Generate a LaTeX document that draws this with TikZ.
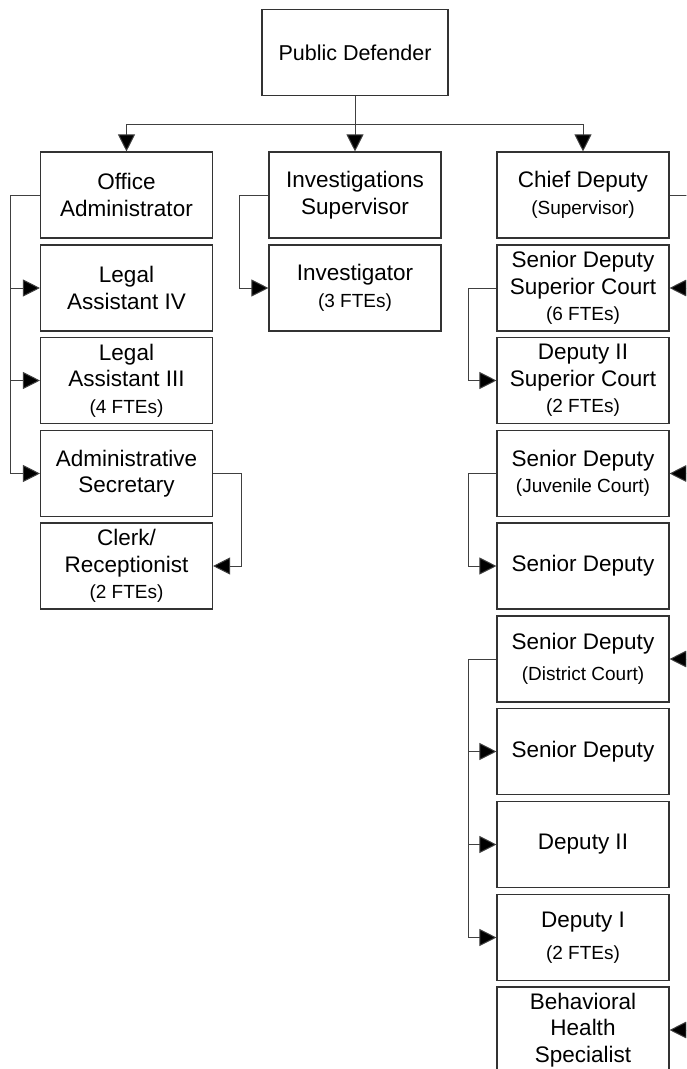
\documentclass[tikz,border=0pt]{standalone}
\usepackage{fontspec}
\setmainfont{Liberation Sans}
\usetikzlibrary{arrows.meta}
\newcommand\fte[1]{{\fontsize{19}{22}\selectfont #1}}

\begin{document}
\begin{tikzpicture}[x=1pt,y=-1pt,every node/.style={font=\fontsize{22.5}{26.5}\selectfont},
  post/.style={draw=black!80,line width=1.1pt,fill=white,minimum width=172pt,minimum height=86pt,inner sep=0pt,align=center},
  link/.style={draw=black!75,line width=1pt},
  arr/.style={link,-{Triangle[length=17pt,width=17pt,fill=black]}}]
\clip (0,0) rectangle (686,1069);
\node[post,minimum width=186pt,font=\fontsize{21.5}{26}\selectfont] (pd) at (355,52.5) {Public Defender};
\node[post] (oadmin) at (126.5,195) {Office\\Administrator}; \node[post] (isup) at (355,195) {Investigations\\Supervisor}; \node[post] (cdep) at (583,195) {Chief Deputy\\\fte{(Supervisor)}};
\node[post] (la4) at (126.5,288) {Legal\\Assistant IV}; \node[post] (la3) at (126.5,380.5) {Legal\\Assistant III\\\fte{(4 FTEs)}};
\node[post] (asec) at (126.5,473.5) {Administrative\\Secretary}; \node[post] (clerk) at (126.5,566) {Clerk/\\Receptionist\\\fte{(2 FTEs)}};
\node[post] (invest) at (355,288) {Investigator\\\fte{(3 FTEs)}};
\node[post] (sdsup) at (583,288) {Senior Deputy\\Superior Court\\\fte{(6 FTEs)}}; \node[post] (d2sup) at (583,380.5) {Deputy II\\Superior Court\\\fte{(2 FTEs)}};
\node[post] (sdjuv) at (583,473.5) {Senior Deputy\\\fte{(Juvenile Court)}}; \node[post] (sdjuv2) at (583,566) {Senior Deputy};
\node[post] (sddist) at (583,659) {Senior Deputy\\[5pt]\fte{(District Court)}}; \node[post] (sddist2) at (583,751.5) {Senior Deputy};
\node[post] (dep2) at (583,844.5) {Deputy II}; \node[post] (dep1) at (583,937.5) {Deputy I\\[6pt]\fte{(2 FTEs)}};
\node[post] (bhs) at (583,1030) {Behavioral\\Health\\Specialist};
\draw[link] (pd) -- (355,124) coordinate (bus);
\draw[arr] (bus) -| (oadmin); \draw[arr] (bus) -- (isup); \draw[arr] (bus) -| (cdep);
\draw[arr] (oadmin.west) -- ++(-29,0) |- (la4); \draw[arr] (oadmin.west) -- ++(-29,0) |- (la3); \draw[arr] (oadmin.west) -- ++(-29,0) |- (asec);
\draw[arr] (asec.east) -- ++(28,0) |- (clerk);
\draw[arr] (isup.west) -- ++(-29,0) |- (invest);
\draw[arr] (cdep.east) -- ++(28,0) |- (sdsup); \draw[arr] (cdep.east) -- ++(28,0) |- (sdjuv);
\draw[arr] (cdep.east) -- ++(28,0) |- (sddist); \draw[arr] (cdep.east) -- ++(28,0) |- (bhs);
\draw[arr] (sdsup.west) -- ++(-28,0) |- (d2sup);
\draw[arr] (sdjuv.west) -- ++(-28,0) |- (sdjuv2);
\draw[arr] (sddist.west) -- ++(-28,0) |- (sddist2); \draw[arr] (sddist.west) -- ++(-28,0) |- (dep2); \draw[arr] (sddist.west) -- ++(-28,0) |- (dep1);
\end{tikzpicture}
\end{document}
